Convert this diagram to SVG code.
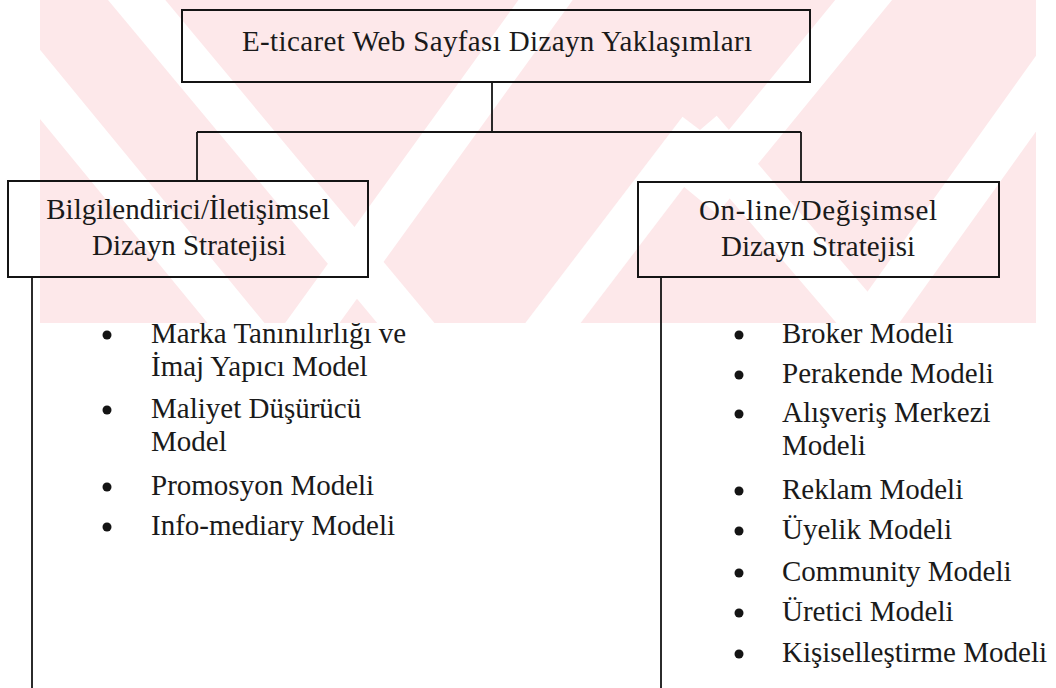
<svg xmlns="http://www.w3.org/2000/svg" width="1056" height="688" viewBox="0 0 1056 688">
  <style>
    .box { fill: none; stroke: #141414; stroke-width: 2; }
    .wire { fill: none; stroke: #141414; stroke-width: 1.8; }
    .lbl { font-family: "Liberation Serif", "Times New Roman", serif; font-size: 29px; fill: #1a1a1a; }
    .mid { text-anchor: middle; }
    .dot { fill: #141414; }
    .gap { stroke: #ffffff; stroke-width: 44; fill: none; }
  </style>
  <defs>
    <clipPath id="band">
      <rect x="40" y="0" width="996" height="323"/>
    </clipPath>
  </defs>

  <rect width="1056" height="688" fill="#ffffff"/>

  <!-- pale background band with diagonal white gaps -->
  <g id="backdrop" clip-path="url(#band)">
    <rect x="40" y="0" width="996" height="323" fill="#fde8ea"/>
    <line class="gap" x1="20" y1="60" x2="250" y2="340"/>
    <line class="gap" x1="120" y1="-20" x2="420" y2="340"/>
    <line class="gap" x1="560" y1="-20" x2="300" y2="340"/>
    <line class="gap" x1="700" y1="130" x2="540" y2="340"/>
    <line class="gap" x1="700" y1="130" x2="880" y2="340"/>
    <line class="gap" x1="880" y1="-20" x2="700" y2="200"/>
    <line class="gap" x1="1060" y1="60" x2="860" y2="340"/>
  </g>

  <!-- connectors -->
  <g id="connectors">
    <line class="wire" x1="492" y1="82" x2="492" y2="132"/>
    <line class="wire" x1="197" y1="132" x2="801" y2="132"/>
    <line class="wire" x1="197" y1="132" x2="197" y2="181"/>
    <line class="wire" x1="801" y1="132" x2="801" y2="182"/>
    <line class="wire" x1="32" y1="277" x2="32" y2="688"/>
    <line class="wire" x1="661" y1="277" x2="661" y2="688"/>
  </g>

  <g id="root">
    <rect class="box" x="182" y="10" width="628" height="72"/>
    <text class="lbl mid" x="497" y="51" textLength="510" lengthAdjust="spacing">E-ticaret Web Sayfası Dizayn Yaklaşımları</text>
  </g>

  <g id="informational">
    <rect class="box" x="8" y="181" width="360" height="96"/>
    <text class="lbl mid" x="188" y="219">Bilgilendirici/İletişimsel</text>
    <text class="lbl mid" x="189" y="255">Dizayn Stratejisi</text>
  </g>

  <g id="transactional">
    <rect class="box" x="638" y="182" width="361" height="95"/>
    <text class="lbl mid" x="818" y="220" textLength="238" lengthAdjust="spacing">On-line/Değişimsel</text>
    <text class="lbl mid" x="818" y="256">Dizayn Stratejisi</text>
  </g>

  <g id="informational-models">
    <circle class="dot" cx="107" cy="335" r="4.5"/>
    <text class="lbl" x="151" y="343">Marka Tanınılırlığı ve</text>
    <text class="lbl" x="151" y="376">İmaj Yapıcı Model</text>
    <circle class="dot" cx="107" cy="410" r="4.5"/>
    <text class="lbl" x="151" y="418">Maliyet Düşürücü</text>
    <text class="lbl" x="151" y="451">Model</text>
    <circle class="dot" cx="107" cy="487" r="4.5"/>
    <text class="lbl" x="151" y="495">Promosyon Modeli</text>
    <circle class="dot" cx="107" cy="527" r="4.5"/>
    <text class="lbl" x="151" y="535">Info-mediary Modeli</text>
  </g>

  <g id="transactional-models">
    <circle class="dot" cx="739" cy="335" r="4.5"/>
    <text class="lbl" x="782" y="343">Broker Modeli</text>
    <circle class="dot" cx="739" cy="375" r="4.5"/>
    <text class="lbl" x="782" y="383">Perakende Modeli</text>
    <circle class="dot" cx="739" cy="414" r="4.5"/>
    <text class="lbl" x="782" y="422">Alışveriş Merkezi</text>
    <text class="lbl" x="782" y="455">Modeli</text>
    <circle class="dot" cx="739" cy="491" r="4.5"/>
    <text class="lbl" x="782" y="499">Reklam Modeli</text>
    <circle class="dot" cx="739" cy="531" r="4.5"/>
    <text class="lbl" x="782" y="539">Üyelik Modeli</text>
    <circle class="dot" cx="739" cy="573" r="4.5"/>
    <text class="lbl" x="782" y="581">Community Modeli</text>
    <circle class="dot" cx="739" cy="613" r="4.5"/>
    <text class="lbl" x="782" y="621">Üretici Modeli</text>
    <circle class="dot" cx="739" cy="654" r="4.5"/>
    <text class="lbl" x="782" y="662">Kişiselleştirme Modeli</text>
  </g>
</svg>
